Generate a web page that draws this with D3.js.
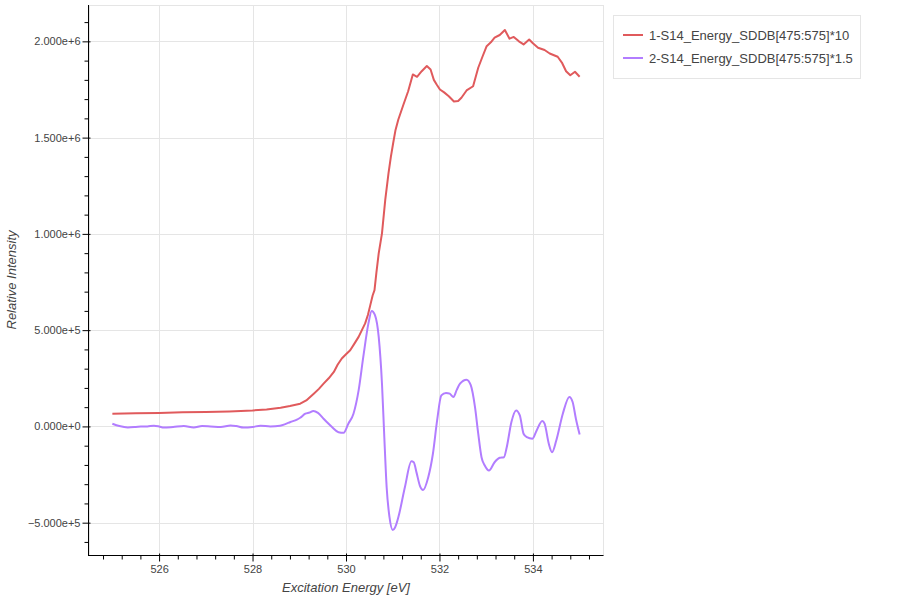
<!DOCTYPE html>
<html>
<head>
<meta charset="utf-8">
<script src="https://cdn.jsdelivr.net/npm/d3@7"></script>
<style>
  body { margin: 0; background: #fff; }
  text { font-family: Helvetica, Arial, "Liberation Sans", sans-serif; }
</style>
</head>
<body>
<div id="chart"></div>
<script>
// series 1 (red) - energy [eV] and intensity
const energy1 = [525.0, 525.5, 526.0, 526.5, 527.0, 527.5, 528.0, 528.3, 528.6, 528.8,
    529.02, 529.15, 529.31, 529.42, 529.52, 529.63, 529.74, 529.82, 529.91, 530.0,
    530.09, 530.18, 530.27, 530.34, 530.41, 530.47, 530.52, 530.57, 530.61, 530.65, 530.7,
    530.77, 530.84, 530.91, 530.96, 531.01, 531.06, 531.12, 531.23, 531.33, 531.43,
    531.52, 531.62, 531.73, 531.81, 531.88, 531.94, 532.01, 532.1, 532.2, 532.31,
    532.4, 532.47, 532.58, 532.72, 532.83, 532.92, 533.01, 533.1, 533.18, 533.29,
    533.4, 533.5, 533.59, 533.7, 533.8, 533.92, 534.0, 534.11, 534.25, 534.36,
    534.53, 534.62, 534.71, 534.8, 534.9, 535.0];
const intensity1 = [66000, 68000, 70000, 73000, 75000, 78000, 83000, 88000, 97000, 106000,
    118000, 135000, 170000, 195000, 222000, 250000, 283000, 320000, 353000, 375000,
    396000, 430000, 465000, 500000, 535000, 580000, 630000, 680000, 708000, 797000, 899000,
    1003000, 1177000, 1316000, 1400000, 1472000, 1540000, 1594000, 1672000, 1741000, 1828000,
    1816000, 1845000, 1872000, 1854000, 1800000, 1776000, 1750000, 1735000, 1715000, 1688000,
    1690000, 1707000, 1745000, 1767000, 1863000, 1920000, 1975000, 1995000, 2019000, 2033000,
    2059000, 2014000, 2023000, 2000000, 1984000, 2010000, 1990000, 1967000, 1955000, 1937000,
    1920000, 1890000, 1845000, 1824000, 1842000, 1816000];

// series 2 (purple)
const energy2 = [525.0, 525.15, 525.33, 525.5, 525.61, 525.75, 525.89, 526.0, 526.1, 526.3,
    526.53, 526.74, 526.92, 527.1, 527.32, 527.53, 527.65, 527.81, 528.0, 528.17,
    528.38, 528.59, 528.7, 528.81, 528.95, 529.02, 529.13, 529.22, 529.3, 529.4,
    529.52, 529.6, 529.7, 529.84, 529.95, 530.05, 530.16, 530.27, 530.37, 530.48,
    530.55, 530.62, 530.7, 530.77, 530.82, 530.87, 530.93, 531.0, 531.05, 531.12,
    531.26, 531.4, 531.45, 531.51, 531.58, 531.65, 531.76, 531.86, 531.95, 532.04,
    532.14, 532.22, 532.3, 532.37, 532.44, 532.58, 532.67, 532.76, 532.83, 532.9,
    532.97, 533.06, 533.18, 533.29, 533.38, 533.44, 533.54, 533.64, 533.72, 533.8,
    533.87, 533.99, 534.08, 534.2, 534.25, 534.34, 534.41, 534.5, 534.64, 534.78,
    534.85, 534.92, 535.0];
const intensity2 = [14000, 2000, -5000, -3000, -1000, 0, 4000, 0, -6000, -3000,
    2000, -6000, 2000, 0, -3000, 5000, 2000, -6000, -3000, 4000,
    0, 4000, 12000, 23000, 35000, 45000, 66000, 72000, 80000, 70000,
    40000, 20000, -3000, -30000, -33000, 14000, 66000, 187000, 361000, 535000,
    600000, 578000, 465000, 222000, -56000, -316000, -470000, -538000, -525000, -472000,
    -316000, -181000, -186000, -240000, -307000, -330000, -264000, -142000, 31000, 161000,
    174000, 170000, 153000, 190000, 222000, 243000, 214000, 101000, -38000, -160000,
    -203000, -229000, -186000, -163000, -160000, -108000, 23000, 83000, 57000, -38000,
    -56000, -64000, -21000, 28000, 14000, -90000, -134000, -73000, 66000, 153000,
    127000, 40000, -42000];

const seriesNames = ["1-S14_Energy_SDDB[475:575]*10", "2-S14_Energy_SDDB[475:575]*1.5"];
const seriesColors = ["#e05a5c", "#b27dff"];

const xMajor = [526, 528, 530, 532, 534];
const yMajor = [-500000, 0, 500000, 1000000, 1500000, 2000000];

const series = [
    energy1.map((e, i) => ({ x: e, y: intensity1[i] })),
    energy2.map((e, i) => ({ x: e, y: intensity2[i] }))
];

const W = 900, H = 600;
const margin = { top: 5, right: 297, bottom: 45, left: 89 };
const width = W - margin.left - margin.right,
    height = H - margin.top - margin.bottom;

const svg = d3.select("#chart")
    .append("svg")
    .attr("width", W)
    .attr("height", H);

const g = svg.append("g")
    .attr("transform", `translate(${margin.left},${margin.top})`);

// data ranges with 5% padding each side (like bokeh DataRange1d)
const allX = energy1.concat(energy2), allY = intensity1.concat(intensity2);
const xe = d3.extent(allX), ye = d3.extent(allY);
const xp = (xe[1] - xe[0]) * 0.05, yp = (ye[1] - ye[0]) * 0.05;

const x = d3.scaleLinear().domain([xe[0] - xp, xe[1] + xp]).range([0, width]);
const y = d3.scaleLinear().domain([ye[0] - yp, ye[1] + yp]).range([height, 0]);

// grid
g.append("g").selectAll("line")
    .data(xMajor)
    .join("line")
    .attr("x1", d => Math.round(x(d)) + 0.5)
    .attr("x2", d => Math.round(x(d)) + 0.5)
    .attr("y1", 0).attr("y2", height)
    .attr("stroke", "#e5e5e5");

g.append("g").selectAll("line")
    .data(yMajor)
    .join("line")
    .attr("y1", d => Math.round(y(d)) + 0.5)
    .attr("y2", d => Math.round(y(d)) + 0.5)
    .attr("x1", 0).attr("x2", width)
    .attr("stroke", "#e5e5e5");

// plot outline
g.append("rect")
    .attr("x", 0.5).attr("y", 0.5)
    .attr("width", width).attr("height", height)
    .attr("fill", "none")
    .attr("stroke", "#e5e5e5");

// lines
const line = d3.line()
    .x(d => x(d.x))
    .y(d => y(d.y));

g.selectAll(".line")
    .data(series)
    .join("path")
    .attr("class", "line")
    .attr("fill", "none")
    .attr("stroke", (d, i) => seriesColors[i])
    .attr("stroke-width", 2)
    .attr("stroke-linejoin", "round")
    .attr("d", (d, i) => line.curve(i == 1 ? d3.curveMonotoneX : d3.curveLinear)(d));

// x axis
const xMinor = d3.range(524.8, 535.5, 0.4).filter(v => !xMajor.some(m => Math.abs(m - v) < 1e-6));
const xAxisG = g.append("g").attr("transform", `translate(0,${height + 0.5})`);

xAxisG.append("g")
    .call(d3.axisBottom(x).tickValues(xMinor).tickSize(4).tickFormat(""))
    .call(a => a.select(".domain").remove());

xAxisG.append("g")
    .style("font-size", "11px")
    .call(d3.axisBottom(x).tickValues(xMajor).tickSizeInner(6).tickSizeOuter(0).tickPadding(4).tickFormat(d3.format("d")))
    .call(a => a.selectAll(".tick line").attr("y1", -2))
    .call(a => a.selectAll(".tick text").attr("fill", "#444"))
    .call(a => a.select(".domain").attr("d", `M0,0H${width + 0.5}`));

// y axis
const yMinor = d3.range(-600000, 2100001, 100000).filter(v => v % 500000 != 0);
const yAxisG = g.append("g").attr("transform", "translate(-0.5,0)");

yAxisG.append("g")
    .call(d3.axisLeft(y).tickValues(yMinor).tickSize(4).tickFormat(""))
    .call(a => a.select(".domain").remove());

yAxisG.append("g")
    .style("font-size", "11px")
    .call(d3.axisLeft(y).tickValues(yMajor).tickSizeInner(6).tickSizeOuter(0).tickPadding(2).tickFormat(d3.format(".3e")))
    .call(a => a.selectAll(".tick line").attr("x1", 2))
    .call(a => a.selectAll(".tick text").attr("fill", "#444"))
    .call(a => a.select(".domain").attr("d", `M0,0V${height + 1}`));

// axis labels
svg.append("text")
    .attr("x", margin.left + width / 2)
    .attr("y", 592)
    .attr("text-anchor", "middle")
    .style("font-size", "13px")
    .style("font-style", "italic")
    .attr("fill", "#444")
    .text("Excitation Energy [eV]");

svg.append("text")
    .attr("transform", `translate(16,${margin.top + height / 2}) rotate(-90)`)
    .attr("text-anchor", "middle")
    .style("font-size", "13px")
    .style("font-style", "italic")
    .attr("fill", "#444")
    .text("Relative Intensity");

// legend
const legend = svg.append("g");
legend.append("rect")
    .attr("x", 613.5).attr("y", 15.5)
    .attr("width", 247).attr("height", 63)
    .attr("fill", "#fff")
    .attr("stroke", "#e5e5e5");

legend.selectAll("legend_lines")
    .data(seriesNames)
    .enter()
    .append("line")
    .attr("x1", 623).attr("x2", 643)
    .attr("y1", (d, i) => 35 + i * 23)
    .attr("y2", (d, i) => 35 + i * 23)
    .attr("stroke", (d, i) => seriesColors[i])
    .attr("stroke-width", 2);

legend.selectAll("legend_labels")
    .data(seriesNames)
    .enter()
    .append("text")
    .attr("x", 649)
    .attr("y", (d, i) => 35 + i * 23)
    .attr("dominant-baseline", "central")
    .style("font-size", "13px")
    .attr("fill", "#444")
    .text(d => d);
</script>
</body>
</html>
